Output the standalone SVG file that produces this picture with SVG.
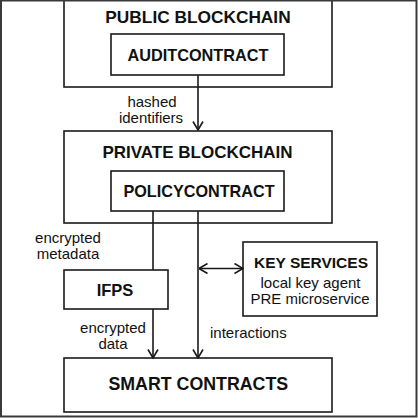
<svg xmlns="http://www.w3.org/2000/svg" width="418" height="418" viewBox="0 0 418 418">
<style>
.box{fill:#fff;stroke:#1a1a1a;stroke-width:1.6}
.t{font-family:"Liberation Sans",Arial,sans-serif;fill:#111;text-anchor:middle}
.b{font-weight:bold}
.lbl{font-size:15px}
.con{fill:none;stroke:#1a1a1a;stroke-width:1.6}
</style>
<defs>
<marker id="ah" viewBox="0 0 10 12" refX="9.5" refY="6" markerWidth="10" markerHeight="12" markerUnits="userSpaceOnUse" orient="auto-start-reverse">
<path d="M1,1 L9.5,6 L1,11" fill="none" stroke="#1a1a1a" stroke-width="1.6"/>
</marker>
</defs>
<rect x="0" y="0" width="418" height="418" fill="#fff"/>
<g id="public">
<rect class="box" x="64" y="-2" width="268" height="89"/>
<text class="t b" x="198" y="22.5" font-size="17.3">PUBLIC BLOCKCHAIN</text>
</g>
<g id="audit">
<rect class="box" x="111" y="34" width="173" height="41"/>
<text class="t b" x="198" y="61" font-size="16.3">AUDITCONTRACT</text>
</g>
<g id="private">
<rect class="box" x="64" y="131" width="268" height="92"/>
<text class="t b" x="197.5" y="158" font-size="17">PRIVATE BLOCKCHAIN</text>
</g>
<g id="policy">
<rect class="box" x="111" y="171" width="173" height="40"/>
<text class="t b" x="199" y="196.5" font-size="16.2">POLICYCONTRACT</text>
</g>
<g id="ifps">
<rect class="box" x="64" y="270" width="104" height="39"/>
<text class="t b" x="115" y="295.5" font-size="16.5">IFPS</text>
</g>
<g id="keyservices">
<rect class="box" x="243" y="242" width="134" height="74"/>
<text class="t b" x="311" y="268" font-size="15.5">KEY SERVICES</text>
<text class="t lbl" x="310.5" y="287.5">local key agent</text>
<text class="t lbl" x="310" y="304">PRE microservice</text>
</g>
<g id="smart">
<rect class="box" x="64" y="358" width="268" height="54"/>
<text class="t b" x="198.3" y="390" font-size="17.8">SMART CONTRACTS</text>
</g>
<g id="connectors">
<line class="con" x1="198" y1="75" x2="198" y2="130" marker-end="url(#ah)"/>
<line class="con" x1="153" y1="211" x2="153" y2="270"/>
<line class="con" x1="198" y1="211" x2="198" y2="358" marker-end="url(#ah)"/>
<line class="con" x1="153" y1="309" x2="153" y2="358" marker-end="url(#ah)"/>
<line class="con" x1="199" y1="268.5" x2="243" y2="268.5" marker-start="url(#ah)" marker-end="url(#ah)"/>
<text class="t lbl" x="152" y="107">hashed</text>
<text class="t lbl" x="151" y="122.5">identifiers</text>
<text class="t lbl" x="68" y="243">encrypted</text>
<text class="t lbl" x="68" y="259.3">metadata</text>
<text class="t lbl" x="113" y="333">encrypted</text>
<text class="t lbl" x="113" y="349">data</text>
<text class="t lbl" x="210" y="338.3" text-anchor="start" style="text-anchor:start">interactions</text>
</g>
<rect x="1" y="0.5" width="415.5" height="416" fill="none" stroke="#3a3a3a" stroke-width="2"/>
</svg>
